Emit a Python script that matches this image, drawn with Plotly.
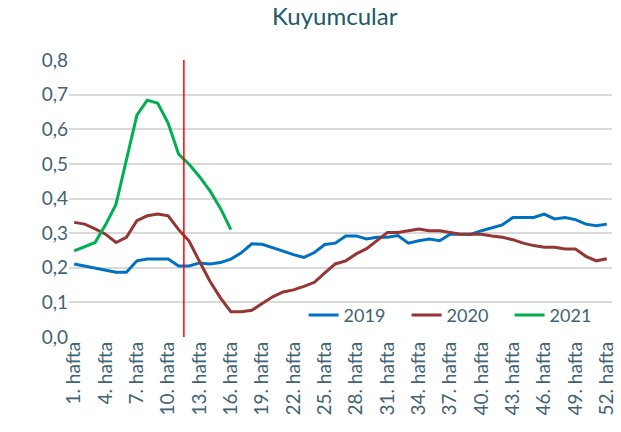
import plotly.graph_objects as go

weeks = list(range(1, 53))
tick_weeks = list(range(1, 53, 3))
tick_labels = [f"{w}. hafta" for w in tick_weeks]

y2019 = [0.211, 0.205, 0.200, 0.193, 0.187, 0.187, 0.220, 0.225, 0.225, 0.225,
         0.205, 0.205, 0.214, 0.211, 0.215, 0.225, 0.243, 0.269, 0.268, 0.259,
         0.248, 0.238, 0.230, 0.244, 0.267, 0.271, 0.292, 0.292, 0.283, 0.288,
         0.288, 0.293, 0.271, 0.278, 0.283, 0.278, 0.297, 0.297, 0.297, 0.307,
         0.315, 0.324, 0.345, 0.345, 0.345, 0.355, 0.341, 0.345, 0.339, 0.326,
         0.321, 0.326]
y2020 = [0.331, 0.326, 0.312, 0.297, 0.273, 0.288, 0.336, 0.350, 0.355, 0.350,
         0.310, 0.277, 0.218, 0.161, 0.113, 0.073, 0.073, 0.077, 0.097, 0.116,
         0.130, 0.136, 0.146, 0.158, 0.185, 0.211, 0.220, 0.240, 0.255, 0.279,
         0.302, 0.302, 0.307, 0.312, 0.307, 0.307, 0.302, 0.297, 0.297, 0.297,
         0.292, 0.288, 0.281, 0.271, 0.264, 0.259, 0.259, 0.254, 0.254, 0.233,
         0.220, 0.226]
y2021 = [0.249, 0.260, 0.273, 0.324, 0.383, 0.512, 0.641, 0.684, 0.675, 0.617,
         0.528, 0.499, 0.463, 0.422, 0.372, 0.310]
marker_week = 11.5

FONT = "Lato"
TXT = "#3F6373"

fig = go.Figure()
fig.add_trace(go.Scatter(x=weeks, y=y2019, mode="lines", name="2019",
                         line=dict(color="#0070C0", width=3)))
fig.add_trace(go.Scatter(x=weeks, y=y2020, mode="lines", name="2020",
                         line=dict(color="#943634", width=3)))
fig.add_trace(go.Scatter(x=weeks[:len(y2021)], y=y2021, mode="lines", name="2021",
                         line=dict(color="#00B050", width=3)))

fig.add_shape(type="line", x0=marker_week, x1=marker_week, y0=0, y1=1,
              xref="x", yref="paper", line=dict(color="#FF0000", width=1.5))

fig.update_layout(
    width=621, height=432,
    margin=dict(l=69, r=9, t=60, b=94.5, autoexpand=False),
    paper_bgcolor="white", plot_bgcolor="white",
    separators=",.",
    font=dict(family=FONT, color=TXT, size=18),
    title=dict(text="Kuyumcular", x=0.539, xanchor="center", y=0.962, yanchor="middle",
               font=dict(family=FONT, size=24, color="#215968")),
    showlegend=True,
    legend=dict(orientation="h", x=0.432, y=0.0786, xanchor="left", yanchor="middle",
                bgcolor="rgba(0,0,0,0)", font=dict(size=18, color=TXT),
                entrywidth=58, entrywidthmode="pixels", tracegroupgap=0),
    xaxis=dict(range=[0.5, 52.5], tickmode="array", tickvals=tick_weeks,
               ticktext=tick_labels, tickangle=-90, showgrid=False, zeroline=False,
               showline=False, ticks="", automargin=False,
               tickfont=dict(size=19, color=TXT)),
    yaxis=dict(range=[0, 0.8], dtick=0.1, tickformat=".1f", showgrid=True,
               gridcolor="#D9D9D9", gridwidth=1.5, zeroline=False, showline=False,
               ticks="", automargin=False, tickfont=dict(size=19, color=TXT)),
)

fig.write_html("out.html", config={"displayModeBar": False},
               post_script="document.body.style.margin='0';")
